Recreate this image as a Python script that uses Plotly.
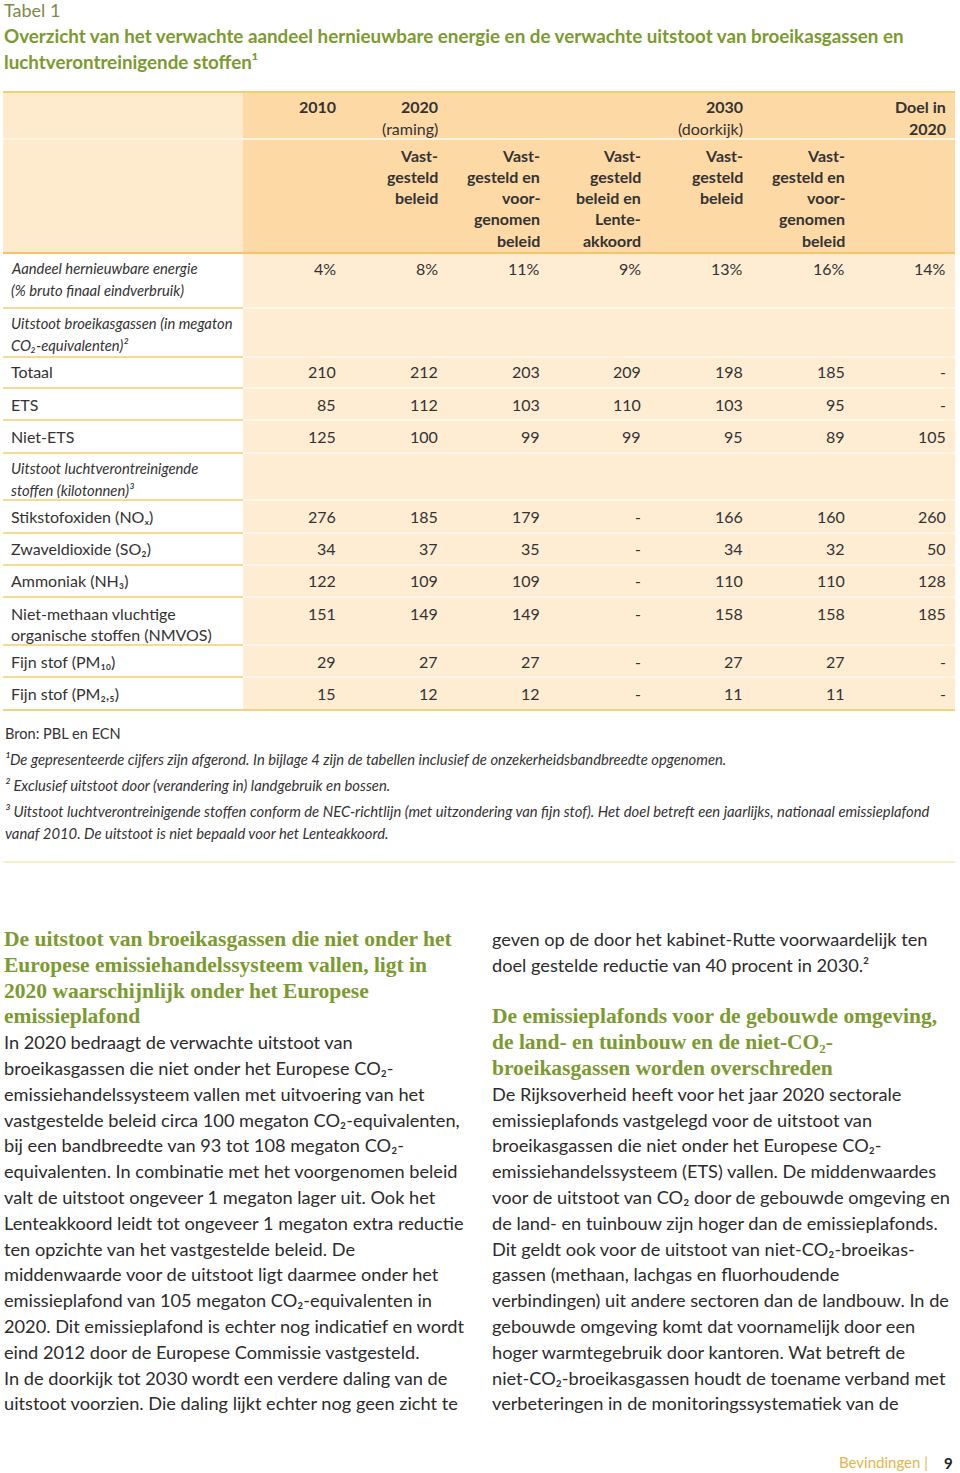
import plotly.graph_objects as go

# table data
col_right = [338, 440, 542, 643, 745, 847, 948]

aandeel = ["4%", "8%", "11%", "9%", "13%", "16%", "14%"]
totaal = ["210", "212", "203", "209", "198", "185", "-"]
ets = ["85", "112", "103", "110", "103", "95", "-"]
niet_ets = ["125", "100", "99", "99", "95", "89", "105"]
nox = ["276", "185", "179", "-", "166", "160", "260"]
so2 = ["34", "37", "35", "-", "34", "32", "50"]
nh3 = ["122", "109", "109", "-", "110", "110", "128"]
nmvos = ["151", "149", "149", "-", "158", "158", "185"]
pm10 = ["29", "27", "27", "-", "27", "27", "-"]
pm25 = ["15", "12", "12", "-", "11", "11", "-"]

hdr_top = [("2010", 338), ("2020", 440), ("2030", 745), ("Doel in", 948)]
hdr_top2 = [("(raming)", 440, False), ("(doorkijk)", 745, False), ("2020", 948, True)]
hdr_sub = [
    ["Vast-", "gesteld", "beleid"],
    ["Vast-", "gesteld en", "voor-", "genomen", "beleid"],
    ["Vast-", "gesteld", "beleid en", "Lente-", "akkoord"],
    ["Vast-", "gesteld", "beleid"],
    ["Vast-", "gesteld en", "voor-", "genomen", "beleid"],
]

# label lines, italic, top, bottom, line ys, values
rows = [
    (["Aandeel hernieuwbare energie", "(% bruto finaal eindverbruik)"], True, 255, 308, [268, 290], aandeel),
    (["Uitstoot broeikasgassen (in megaton", "CO₂-equivalenten)²"], True, 310, 357, [323, 345], None),
    (["Totaal"], False, 357, 388, [371], totaal),
    (["ETS"], False, 388, 420, [404], ets),
    (["Niet-ETS"], False, 420, 453, [436], niet_ets),
    (["Uitstoot luchtverontreinigende", "stoffen (kilotonnen)³"], True, 453, 500, [468, 490], None),
    (["Stikstofoxiden (NOₓ)"], False, 500, 533, [516], nox),
    (["Zwaveldioxide (SO₂)"], False, 533, 565, [548], so2),
    (["Ammoniak (NH₃)"], False, 565, 597, [580], nh3),
    (["Niet-methaan vluchtige", "organische stoffen (NMVOS)"], False, 597, 645, [613, 634], nmvos),
    (["Fijn stof (PM₁₀)"], False, 645, 677, [661], pm10),
    (["Fijn stof (PM₂,₅)"], False, 677, 710, [693], pm25),
]

footnotes = [
    ("Bron: PBL en ECN", 733, False),
    ("¹De gepresenteerde cijfers zijn afgerond. In bijlage 4 zijn de tabellen inclusief de onzekerheidsbandbreedte opgenomen.", 759, True),
    ("² Exclusief uitstoot door (verandering in) landgebruik en bossen.", 785, True),
    ("³ Uitstoot luchtverontreinigende stoffen conform de NEC-richtlijn (met uitzondering van fijn stof). Het doel betreft een jaarlijks, nationaal emissieplafond", 811, True),
    ("vanaf 2010. De uitstoot is niet bepaald voor het Lenteakkoord.", 833, True),
]

left_head = [
    "De uitstoot van broeikasgassen die niet onder het",
    "Europese emissiehandelssysteem vallen, ligt in",
    "2020 waarschijnlijk onder het Europese",
    "emissieplafond",
]
left_body = [
    "In 2020 bedraagt de verwachte uitstoot van",
    "broeikasgassen die niet onder het Europese CO₂-",
    "emissiehandelssysteem vallen met uitvoering van het",
    "vastgestelde beleid circa 100 megaton CO₂-equivalenten,",
    "bij een bandbreedte van 93 tot 108 megaton CO₂-",
    "equivalenten. In combinatie met het voorgenomen beleid",
    "valt de uitstoot ongeveer 1 megaton lager uit. Ook het",
    "Lenteakkoord leidt tot ongeveer 1 megaton extra reductie",
    "ten opzichte van het vastgestelde beleid. De",
    "middenwaarde voor de uitstoot ligt daarmee onder het",
    "emissieplafond van 105 megaton CO₂-equivalenten in",
    "2020. Dit emissieplafond is echter nog indicatief en wordt",
    "eind 2012 door de Europese Commissie vastgesteld.",
    "In de doorkijk tot 2030 wordt een verdere daling van de",
    "uitstoot voorzien. Die daling lijkt echter nog geen zicht te",
]
right_top = [
    "geven op de door het kabinet-Rutte voorwaardelijk ten",
    "doel gestelde reductie van 40 procent in 2030.²",
]
right_head = [
    "De emissieplafonds voor de gebouwde omgeving,",
    "de land- en tuinbouw en de niet-CO₂-",
    "broeikasgassen worden overschreden",
]
right_body = [
    "De Rijksoverheid heeft voor het jaar 2020 sectorale",
    "emissieplafonds vastgelegd voor de uitstoot van",
    "broeikasgassen die niet onder het Europese CO₂-",
    "emissiehandelssysteem (ETS) vallen. De middenwaardes",
    "voor de uitstoot van CO₂ door de gebouwde omgeving en",
    "de land- en tuinbouw zijn hoger dan de emissieplafonds.",
    "Dit geldt ook voor de uitstoot van niet-CO₂-broeikas-",
    "gassen (methaan, lachgas en fluorhoudende",
    "verbindingen) uit andere sectoren dan de landbouw. In de",
    "gebouwde omgeving komt dat voornamelijk door een",
    "hoger warmtegebruik door kantoren. Wat betreft de",
    "niet-CO₂-broeikasgassen houdt de toename verband met",
    "verbeteringen in de monitoringssystematiek van de",
]

GREEN = "#7b9a2f"
TXT = "#2b2b2b"
SANS = "Lato"
SERIF = "Liberation Serif"

shapes = []
annotations = []


def rect(x0, y0, x1, y1, color):
    shapes.append(dict(type="rect", xref="x", yref="y", x0=x0, y0=y0, x1=x1, y1=y1,
                       fillcolor=color, line=dict(width=0), layer="below"))


def hline(x0, x1, y, color, w=2):
    shapes.append(dict(type="line", xref="x", yref="y", x0=x0, x1=x1, y0=y, y1=y,
                       line=dict(color=color, width=w)))


def txt(x, y, s, size=16, color=TXT, family=SANS, anchor="left"):
    annotations.append(dict(x=x, y=y, xref="x", yref="y", text=s, showarrow=False,
                            xanchor=anchor, yanchor="middle", align=anchor,
                            font=dict(size=size, color=color, family=family)))


# titles
txt(2, 10, "Tabel 1", 18, "#7d8a4a")
txt(2, 35, "<b>Overzicht van het verwachte aandeel hernieuwbare energie en de verwachte uitstoot van broeikasgassen en</b>", 18.8, GREEN)
txt(2, 61, "<b>luchtverontreinigende stoffen¹</b>", 18.8, GREEN)

# table backgrounds
rect(3, 92, 243, 253, "#feeacd")
rect(243, 92, 955, 253, "#fdd9a5")
rect(243, 253, 955, 710, "#feecd3")
hline(3, 955, 92, "#f1d074")
hline(3, 955, 139, "#fff3e0", 2)
hline(3, 955, 253, "#f6c46e", 2)

for c, x in hdr_top:
    txt(x, 106, "<b>" + c + "</b>", 16, "#333333", anchor="right")
for c, x, b in hdr_top2:
    txt(x, 128, ("<b>" + c + "</b>") if b else c, 16, "#333333", anchor="right")
for k, lines in enumerate(hdr_sub):
    for j, s in enumerate(lines):
        txt(col_right[k + 1], 155 + j * 21.3, "<b>" + s + "</b>", 16, "#333333", anchor="right")

for labels, ital, top, bot, ys, vals in rows:
    for s, y in zip(labels, ys):
        if ital:
            txt(9, y, "<i>" + s + "</i>", 14.8, "#333333")
        else:
            txt(9, y, s, 16, "#333333")
    if vals is not None:
        for v, x in zip(vals, col_right):
            txt(x, ys[0], v, 16, "#333333", anchor="right")
    if bot < 710:
        hline(3, 243, bot, "#f4da92", 2)
        hline(243, 955, bot, "#fff6ea", 2)
hline(3, 955, 710, "#f2d27c", 2)

for s, y, ital in footnotes:
    txt(3, y, ("<i>" + s + "</i>") if ital else s, 14.8 if ital else 14.6, "#333333")
hline(3, 955, 862, "#f8f1c6", 2)

# text columns
y = 939
for s in left_head:
    txt(2, y, "<b>" + s + "</b>", 21.5, GREEN, SERIF)
    y += 25.8
for s in left_body:
    txt(2, y, s, 18.2, TXT)
    y += 25.8

y = 939
for s in right_top:
    txt(490, y, s, 18.2, TXT)
    y += 25.8
y += 25.8
for s in right_head:
    txt(490, y, "<b>" + s + "</b>", 21.5, GREEN, SERIF)
    y += 25.8
for s in right_body:
    txt(490, y, s, 18.2, TXT)
    y += 25.8

# footer
txt(930, 1462, "Bevindingen |", 15, "#e6b449", anchor="right")
txt(955, 1463, "<b>9</b>", 15, "#222222", anchor="right")

fig = go.Figure()
fig.add_trace(go.Scatter(x=[0, 960], y=[0, 1473], mode="markers",
                         marker=dict(opacity=0), hoverinfo="skip"))
fig.update_layout(
    width=960, height=1473,
    margin=dict(l=0, r=0, t=0, b=0),
    paper_bgcolor="white", plot_bgcolor="white",
    showlegend=False,
    xaxis=dict(range=[0, 960], visible=False, fixedrange=True),
    yaxis=dict(range=[1473, 0], visible=False, fixedrange=True),
    shapes=shapes, annotations=annotations,
)

fig.write_html("out.html", config={"displayModeBar": False},
               post_script="document.body.style.margin='0';document.body.style.overflow='hidden';")
